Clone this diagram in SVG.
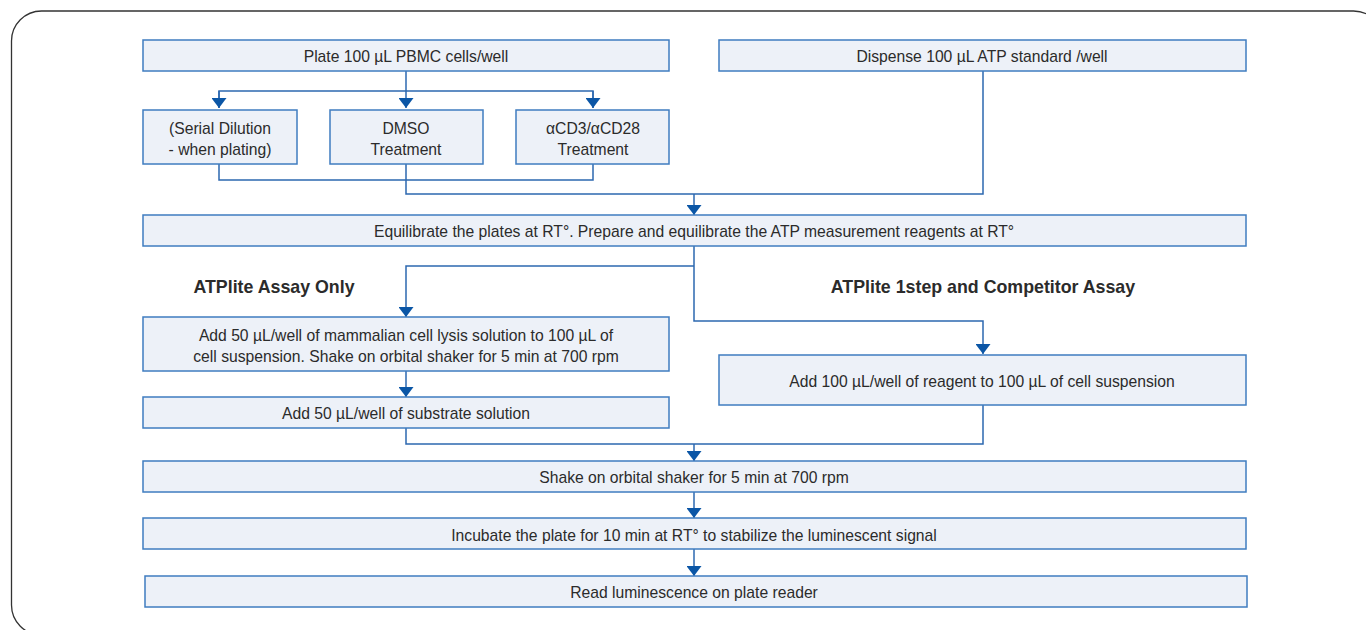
<svg xmlns="http://www.w3.org/2000/svg" width="1366" height="630" viewBox="0 0 1366 630">
<defs>
<style>
.box{fill:#edf1f8;stroke:#3f7cc0;stroke-width:1.5}
.t{font-family:"Liberation Sans",Arial,sans-serif;font-size:15.7px;fill:#2b2b2b;text-anchor:middle;dominant-baseline:central}
.h{font-family:"Liberation Sans",Arial,sans-serif;font-size:17.8px;font-weight:bold;fill:#2b2b2b;text-anchor:middle;dominant-baseline:central}
.c{fill:none;stroke:#2d68b0;stroke-width:1.5}
</style>
<marker id="ah" markerWidth="15" markerHeight="10" refX="7.5" refY="10" orient="0" markerUnits="userSpaceOnUse">
<path d="M0,0 L15,0 L7.5,10 Z" fill="#0b56a6"/>
</marker>
</defs>
<rect width="1366" height="630" fill="#ffffff"/>
<rect x="11.5" y="11" width="1372" height="624" rx="30" ry="30" fill="none" stroke="#333333" stroke-width="1.3"/>

<g id="connectors">
<path class="c" d="M406,71 V108" marker-end="url(#ah)"/>
<path class="c" d="M219,108 V91 H593 V108" />
<path class="c" d="M219,91 V108" marker-end="url(#ah)"/>
<path class="c" d="M593,91 V108" marker-end="url(#ah)"/>
<path class="c" d="M219,164 V180 H593 V164"/>
<path class="c" d="M406,164 V194 H983 V71"/>
<path class="c" d="M694,194 V215" marker-end="url(#ah)"/>
<path class="c" d="M694,246 V321 H983 V354" marker-end="url(#ah)"/>
<path class="c" d="M694,266 H406 V317" marker-end="url(#ah)"/>
<path class="c" d="M406,371 V397" marker-end="url(#ah)"/>
<path class="c" d="M406,428 V444 H983 V405"/>
<path class="c" d="M694,444 V461" marker-end="url(#ah)"/>
<path class="c" d="M694,492 V518" marker-end="url(#ah)"/>
<path class="c" d="M694,549 V576" marker-end="url(#ah)"/>
</g>

<g id="plate"><rect class="box" x="143" y="40" width="526" height="31"/><text class="t" x="406" y="56">Plate 100 µL PBMC cells/well</text></g>
<g id="dispense"><rect class="box" x="719" y="40" width="527" height="31"/><text class="t" x="982" y="56">Dispense 100 µL ATP standard /well</text></g>
<g id="serial"><rect class="box" x="143" y="110" width="154" height="54"/><text class="t" x="220" y="128">(Serial Dilution</text><text class="t" x="220" y="149">- when plating)</text></g>
<g id="dmso"><rect class="box" x="330" y="110" width="153" height="54"/><text class="t" x="406" y="128">DMSO</text><text class="t" x="406" y="149">Treatment</text></g>
<g id="cd3"><rect class="box" x="516" y="110" width="153" height="54"/><text class="t" x="593" y="128">αCD3/αCD28</text><text class="t" x="593" y="149">Treatment</text></g>
<g id="equilibrate"><rect class="box" x="143" y="215" width="1103" height="31"/><text class="t" x="694" y="231">Equilibrate the plates at RT°. Prepare and equilibrate the ATP measurement reagents at RT°</text></g>
<g id="label-left"><text class="h" x="274" y="287">ATPlite Assay Only</text></g>
<g id="label-right"><text class="h" x="983" y="287">ATPlite 1step and Competitor Assay</text></g>
<g id="lysis"><rect class="box" x="143" y="317" width="526" height="54"/><text class="t" x="406" y="335">Add 50 µL/well of mammalian cell lysis solution to 100 µL of</text><text class="t" x="406" y="356">cell suspension. Shake on orbital shaker for 5 min at 700 rpm</text></g>
<g id="substrate"><rect class="box" x="143" y="397" width="526" height="31"/><text class="t" x="406" y="413">Add 50 µL/well of substrate solution</text></g>
<g id="reagent"><rect class="box" x="719" y="355" width="527" height="50"/><text class="t" x="982" y="381">Add 100 µL/well of reagent to 100 µL of cell suspension</text></g>
<g id="shake"><rect class="box" x="143" y="461" width="1103" height="31"/><text class="t" x="694" y="477">Shake on orbital shaker for 5 min at 700 rpm</text></g>
<g id="incubate"><rect class="box" x="143" y="518" width="1103" height="31"/><text class="t" x="694" y="535">Incubate the plate for 10 min at RT° to stabilize the luminescent signal</text></g>
<g id="read"><rect class="box" x="145" y="576" width="1102" height="31"/><text class="t" x="694" y="592">Read luminescence on plate reader</text></g>
</svg>
